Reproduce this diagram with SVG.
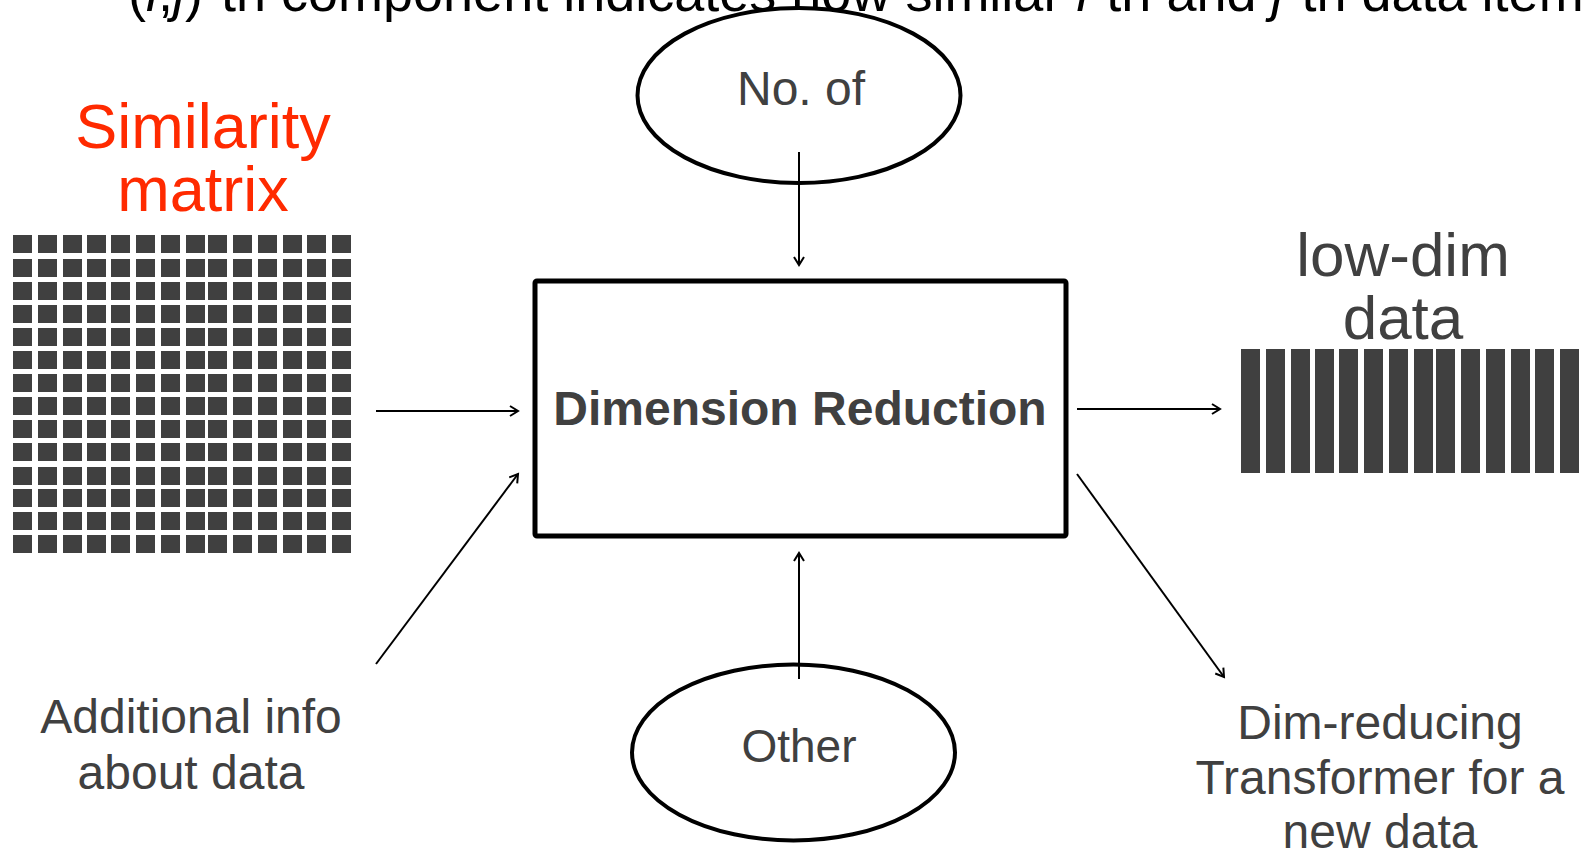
<svg xmlns="http://www.w3.org/2000/svg" width="1581" height="851" viewBox="0 0 1581 851">
  <style>
    .lbl { font-family: "Liberation Sans", Arial, sans-serif; fill: #404040; text-anchor: middle; }
    .red { font-family: "Liberation Sans", Arial, sans-serif; fill: #ff2a00; text-anchor: middle; }
    .cell { fill: #404040; }
    .shape { fill: #ffffff; stroke: #000000; }
    .conn { stroke: #000000; stroke-width: 2; fill: none; marker-end: url(#arrow); }
  </style>
  <defs>
    <marker id="arrow" markerUnits="userSpaceOnUse" markerWidth="14" markerHeight="14" refX="10" refY="6" orient="auto">
      <path d="M2,1 L10,6 L2,11" fill="none" stroke="#000000" stroke-width="2"/>
    </marker>
    <!-- one row of 14 matrix cells -->
    <g id="matrix-row">
      <rect class="cell" x="13" y="0" width="19" height="18"/>
      <rect class="cell" x="38" y="0" width="19" height="18"/>
      <rect class="cell" x="63" y="0" width="19" height="18"/>
      <rect class="cell" x="87" y="0" width="19" height="18"/>
      <rect class="cell" x="111" y="0" width="19" height="18"/>
      <rect class="cell" x="136" y="0" width="19" height="18"/>
      <rect class="cell" x="161" y="0" width="19" height="18"/>
      <rect class="cell" x="186" y="0" width="19" height="18"/>
      <rect class="cell" x="208" y="0" width="19" height="18"/>
      <rect class="cell" x="233" y="0" width="19" height="18"/>
      <rect class="cell" x="258" y="0" width="19" height="18"/>
      <rect class="cell" x="283" y="0" width="19" height="18"/>
      <rect class="cell" x="307" y="0" width="19" height="18"/>
      <rect class="cell" x="332" y="0" width="19" height="18"/>
    </g>
  </defs>

  <rect width="1581" height="851" fill="#ffffff"/>

  <!-- heading line, clipped by the top edge -->
  <text x="128" y="11" font-family="'Liberation Sans', Arial, sans-serif" font-size="54" fill="#000000">(<tspan font-style="italic">i</tspan>,<tspan font-style="italic">j</tspan>)-th component indicates how similar <tspan font-style="italic">i</tspan>-th and <tspan font-style="italic">j</tspan>-th data items</text>

  <!-- similarity matrix -->
  <g id="similarity-matrix">
    <text class="red" x="203" y="148" font-size="63">Similarity</text>
    <text class="red" x="203" y="211" font-size="63">matrix</text>
    <use href="#matrix-row" y="235"/>
    <use href="#matrix-row" y="259"/>
    <use href="#matrix-row" y="282"/>
    <use href="#matrix-row" y="305"/>
    <use href="#matrix-row" y="328"/>
    <use href="#matrix-row" y="351"/>
    <use href="#matrix-row" y="374"/>
    <use href="#matrix-row" y="397"/>
    <use href="#matrix-row" y="420"/>
    <use href="#matrix-row" y="443"/>
    <use href="#matrix-row" y="467"/>
    <use href="#matrix-row" y="489"/>
    <use href="#matrix-row" y="512"/>
    <use href="#matrix-row" y="535"/>
  </g>

  <!-- additional info label -->
  <g id="additional-info">
    <text class="lbl" x="191" y="733" font-size="48">Additional info</text>
    <text class="lbl" x="191" y="789" font-size="48">about data</text>
  </g>

  <!-- number-of ellipse -->
  <g id="no-of">
    <ellipse class="shape" cx="799" cy="95.5" rx="161.5" ry="87.5" stroke-width="4"/>
    <text class="lbl" x="801" y="105" font-size="48">No. of</text>
  </g>

  <!-- central process box -->
  <g id="dimension-reduction">
    <rect class="shape" x="535" y="281" width="531" height="255" rx="2" stroke-width="5"/>
    <text class="lbl" x="800" y="425" font-size="48" font-weight="bold">Dimension Reduction</text>
  </g>

  <!-- other ellipse -->
  <g id="other">
    <ellipse class="shape" cx="793.5" cy="752.5" rx="161.5" ry="88" stroke-width="4"/>
    <text class="lbl" x="799" y="762" font-size="46">Other</text>
  </g>

  <!-- low-dimensional output -->
  <g id="low-dim-data">
    <text class="lbl" x="1403" y="276" font-size="62">low-dim</text>
    <text class="lbl" x="1403" y="339" font-size="62">data</text>
    <rect class="cell" x="1241" y="349" width="19" height="124"/>
    <rect class="cell" x="1266" y="349" width="19" height="124"/>
    <rect class="cell" x="1291" y="349" width="19" height="124"/>
    <rect class="cell" x="1315" y="349" width="19" height="124"/>
    <rect class="cell" x="1339" y="349" width="19" height="124"/>
    <rect class="cell" x="1364" y="349" width="19" height="124"/>
    <rect class="cell" x="1389" y="349" width="19" height="124"/>
    <rect class="cell" x="1414" y="349" width="19" height="124"/>
    <rect class="cell" x="1436" y="349" width="19" height="124"/>
    <rect class="cell" x="1461" y="349" width="19" height="124"/>
    <rect class="cell" x="1486" y="349" width="19" height="124"/>
    <rect class="cell" x="1511" y="349" width="19" height="124"/>
    <rect class="cell" x="1535" y="349" width="19" height="124"/>
    <rect class="cell" x="1560" y="349" width="19" height="124"/>
  </g>

  <!-- transformer output label -->
  <g id="transformer">
    <text class="lbl" x="1380" y="739" font-size="48">Dim-reducing</text>
    <text class="lbl" x="1380" y="794" font-size="48">Transformer for a</text>
    <text class="lbl" x="1380" y="848" font-size="48">new data</text>
  </g>

  <!-- connectors -->
  <g id="connectors">
    <line class="conn" x1="376" y1="411" x2="518" y2="411"/>
    <line class="conn" x1="376" y1="664" x2="518" y2="474"/>
    <line class="conn" x1="799" y1="152" x2="799" y2="265"/>
    <line class="conn" x1="799" y1="679" x2="799" y2="553"/>
    <line class="conn" x1="1077" y1="409" x2="1220" y2="409"/>
    <line class="conn" x1="1077" y1="474" x2="1224" y2="677"/>
  </g>
</svg>
